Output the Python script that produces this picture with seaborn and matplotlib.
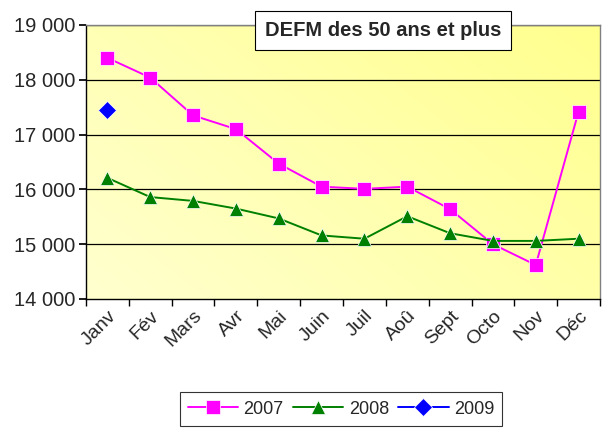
import numpy as np
import pandas as pd
import matplotlib
matplotlib.use("Agg")
import matplotlib.pyplot as plt
import seaborn as sns
from matplotlib.colors import LinearSegmentedColormap

months = ["Janv", "Fév", "Mars", "Avr", "Mai", "Juin", "Juil", "Aoû", "Sept", "Octo", "Nov", "Déc"]
v2007 = [18400, 18040, 17350, 17100, 16470, 16050, 16010, 16050, 15640, 15000, 14620, 17420]
v2008 = [16210, 15860, 15790, 15650, 15470, 15160, 15100, 15510, 15200, 15060, 15060, 15100]
v2009 = [17440]
title = "DEFM des 50 ans et plus"

sns.set_theme(style="white")
plt.rcParams['font.family'] = ['Liberation Sans', 'DejaVu Sans']

rows = []
for i, v in enumerate(v2007):
    rows.append(("2007", i, v))
for i, v in enumerate(v2008):
    rows.append(("2008", i, v))
for i, v in enumerate(v2009):
    rows.append(("2009", i, v))
df = pd.DataFrame(rows, columns=["year", "pos", "value"])

fig = plt.figure(figsize=(6.04, 4.33), dpi=100)
fig.patch.set_facecolor("white")
ax = fig.add_axes([86/604, (433-299)/433, 514/604, 274/433])

# gradient background
cmap = LinearSegmentedColormap.from_list("bg", ["#FFFFCF", "#FFFF8E"])
gx, gy = np.meshgrid(np.linspace(0, 1, 200), np.linspace(0, 1, 200))
grad = (gx * 0.6 + gy * 0.4)
ax.imshow(grad, cmap=cmap, extent=[0, 1, 0, 1], transform=ax.transAxes,
          origin="lower", aspect="auto", zorder=0, interpolation="bilinear")

palette = {"2007": "#FF00FF", "2008": "#008000", "2009": "#0000FF"}
markers = {"2007": "s", "2008": "^", "2009": "D"}
sns.lineplot(data=df, x="pos", y="value", hue="year", style="year",
             palette=palette, markers=markers, dashes=False,
             markersize=9.5, linewidth=1.4, markeredgewidth=0.5, ax=ax, zorder=3)

ax.set_xlim(-0.5, 11.5)
ax.set_ylim(14000, 19000)
ax.set_yticks(np.arange(14000, 19001, 1000))
ax.set_yticklabels([f"{int(t):,}".replace(",", " ") for t in np.arange(14000, 19001, 1000)], fontsize=14.5)
ax.set_xticks(range(12))
ax.set_xticklabels(months, rotation=45, ha="right", rotation_mode="anchor", fontsize=14)
ax.set_xticks(np.arange(-0.5, 12, 1), minor=True)
ax.tick_params(axis="x", which="major", length=0, pad=6)
ax.tick_params(axis="x", which="minor", length=5, direction="out", color="black", bottom=True)
ax.tick_params(axis="y", length=5, direction="out", color="black", left=True, pad=3)
ax.set_xlabel("")
ax.set_ylabel("")
for y in np.arange(15000, 19001, 1000):
    ax.axhline(y, color="black", linewidth=0.9, zorder=1)
for s in ax.spines.values():
    s.set_color("#808080")
    s.set_linewidth(1.0)
ax.spines["left"].set_color("black")
ax.spines["bottom"].set_color("black")

ax.text(0.578, 0.98, title, transform=ax.transAxes, ha="center", va="center",
        fontsize=14.5, fontweight="bold", zorder=5,
        bbox=dict(boxstyle="square,pad=0.5", facecolor="white", edgecolor="black", linewidth=0.8))

leg = ax.legend(loc="center", bbox_to_anchor=(341/604, (433-409)/433), bbox_transform=fig.transFigure,
                ncol=3, frameon=True, fancybox=False, edgecolor="black", fontsize=13,
                handlelength=2.8, columnspacing=0.5, handletextpad=0.3, borderpad=0.45)
leg.get_frame().set_linewidth(0.8)

fig.savefig("out.png", dpi=100)
